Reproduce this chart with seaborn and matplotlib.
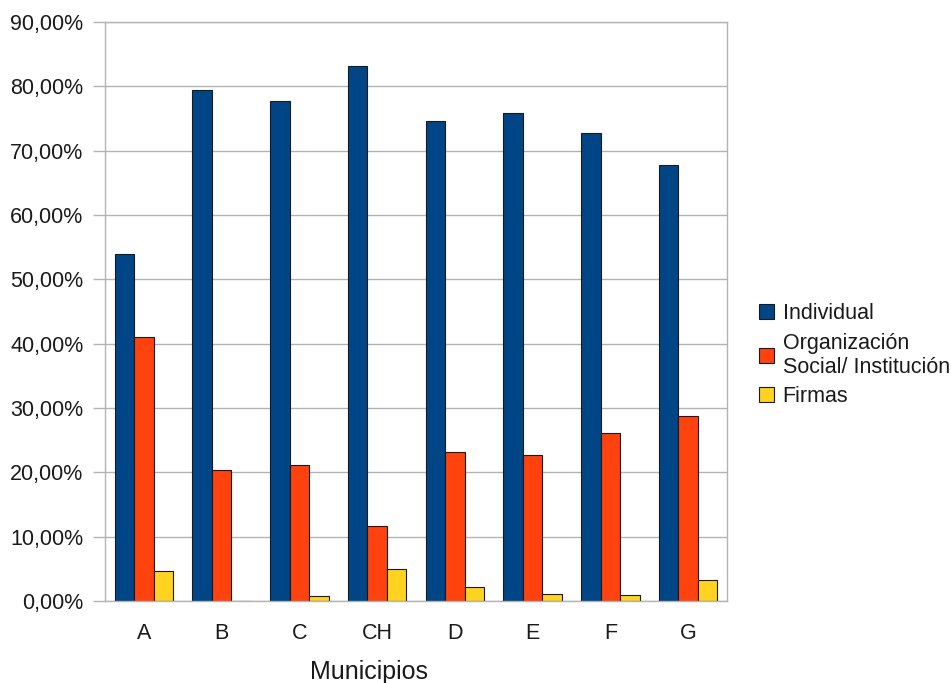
import pandas as pd
import seaborn as sns
import matplotlib.pyplot as plt
from matplotlib.ticker import FuncFormatter, FixedLocator

municipios = ["A", "B", "C", "CH", "D", "E", "F", "G"]
individual = [54.0, 79.5, 77.7, 83.1, 74.6, 75.9, 72.7, 67.8]
organizacion = [41.0, 20.3, 21.2, 11.7, 23.1, 22.7, 26.1, 28.8]
firmas = [4.7, 0.0, 0.8, 4.9, 2.1, 1.1, 1.0, 3.2]
series = ["Individual", "Organización\nSocial/ Institución", "Firmas"]
colores = ["#004586", "#ff420e", "#ffd320"]

df = pd.DataFrame({
    "Municipio": municipios * 3,
    "valor": individual + organizacion + firmas,
    "serie": [series[0]] * 8 + [series[1]] * 8 + [series[2]] * 8,
})

sns.set_style("white")
plt.rcParams["font.family"] = ["Liberation Sans", "DejaVu Sans"]

fig = plt.figure(figsize=(9.51, 6.83), dpi=100)
ax = fig.add_axes([105 / 951, 82 / 683, 622 / 951, 579 / 683])

sns.barplot(
    data=df, x="Municipio", y="valor", hue="serie",
    order=municipios, hue_order=series, palette=colores, saturation=1,
    width=0.75, edgecolor="#1a1a1a", linewidth=0.8, ax=ax,
)

ax.set_ylim(0, 90)
ax.set_xlim(-0.5, 7.5)
ax.set_yticks(range(0, 91, 10))
ax.yaxis.set_major_formatter(FuncFormatter(lambda v, p: f"{v:.2f}%".replace(".", ",")))
ax.yaxis.grid(True, color="#b3b3b3", linewidth=1)
ax.set_axisbelow(True)

for s in ax.spines.values():
    s.set_color("#b3b3b3")
    s.set_linewidth(1)

# ticks entre categorias
ax.xaxis.set_minor_locator(FixedLocator([i - 0.5 for i in range(9)]))
ax.tick_params(axis="x", which="major", length=0, pad=16, labelsize=15.5, colors="#1a1a1a")
ax.tick_params(axis="x", which="minor", length=8, width=1, color="#b3b3b3")
ax.tick_params(axis="y", length=8.6, width=1, color="#b3b3b3", labelsize=15.5,
               labelcolor="#1a1a1a", pad=7, left=True)

ax.set_xlabel("Municipios", fontsize=18, color="#1a1a1a", labelpad=11, x=0.425)
ax.set_ylabel("")

handles, labels = ax.get_legend_handles_labels()
ax.legend(handles, labels, loc="upper left",
          bbox_to_anchor=(759 / 951, (683 - 303) / 683),
          bbox_transform=fig.transFigure, frameon=False, fontsize=15.5,
          handlelength=0.7, handleheight=0.7, handletextpad=0.4,
          labelspacing=0.4, borderpad=0, borderaxespad=0, labelcolor="#1a1a1a")

fig.savefig("out.png", dpi=100)
